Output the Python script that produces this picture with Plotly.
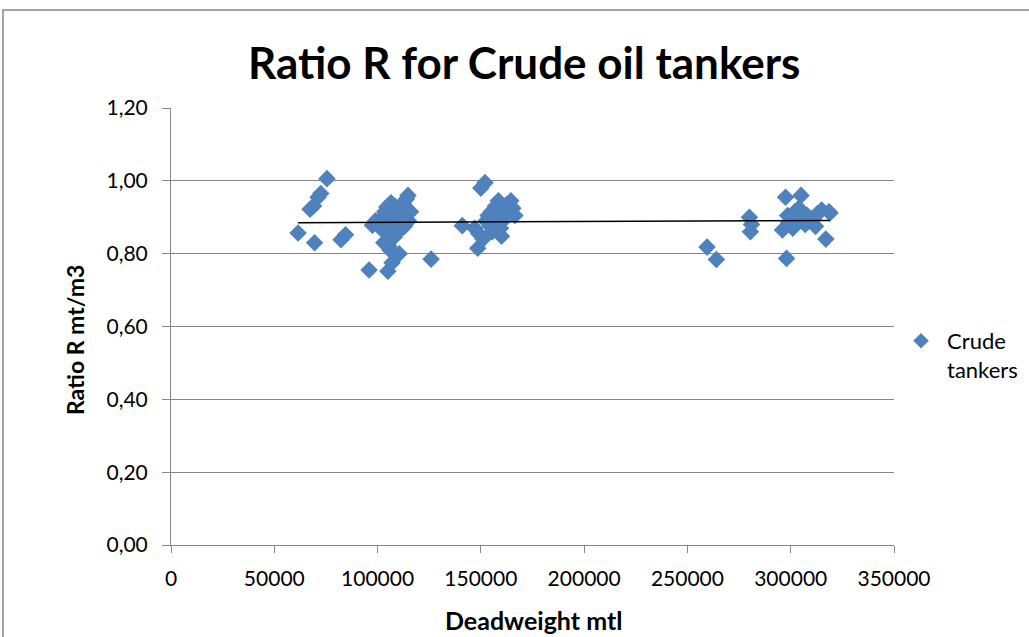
import numpy as np
import plotly.graph_objects as go

# Deadweight (mt) and Ratio R (mt/m3)
deadweight = [
    61500, 67300, 69000, 69500, 71200, 72500, 75500, 82300, 84500,
    95900, 97500, 99000, 100500, 101500, 102500, 103500, 104000, 104500, 105000,
    105500, 106000, 106500, 107000, 107500, 108000, 108500, 109000, 109500, 110000,
    110500, 111000, 111500, 112000, 112500, 113000, 113500, 114000, 114700, 115000,
    116000, 125900, 103000, 106000,
    141000, 147000, 148500, 149000, 150000, 151000, 152000, 152500, 153500, 154500,
    155000, 156000, 157000, 158000, 158500, 159500, 160000, 160500, 161500, 162500,
    163500, 164500, 165500, 166500, 155500,
    259500, 264000, 280000, 280500, 281000, 296000, 297500, 298000, 298500, 299000,
    300000, 301000, 302000, 303000, 304000, 305000, 306000, 307000, 308000, 309000,
    310000, 311000, 312000, 313000, 315000, 317000, 318500, 319000,
]
ratio_r = [
    0.857, 0.922, 0.931, 0.830, 0.955, 0.965, 1.006, 0.838, 0.852,
    0.755, 0.878, 0.890, 0.884, 0.870, 0.900, 0.915, 0.860, 0.928, 0.752,
    0.820, 0.880, 0.940, 0.775, 0.905, 0.845, 0.930, 0.870, 0.895, 0.910,
    0.800, 0.865, 0.925, 0.885, 0.940, 0.875, 0.905, 0.950, 0.960, 0.890,
    0.915, 0.785, 0.830, 0.810,
    0.877, 0.870, 0.815, 0.855, 0.980, 0.840, 0.995, 0.890, 0.905, 0.875,
    0.915, 0.885, 0.930, 0.900, 0.945, 0.870, 0.848, 0.920, 0.895, 0.935,
    0.910, 0.945, 0.925, 0.905, 0.860,
    0.818, 0.784, 0.900, 0.860, 0.880, 0.865, 0.955, 0.787, 0.905, 0.885,
    0.900, 0.870, 0.915, 0.890, 0.925, 0.960, 0.905, 0.880, 0.905, 0.890,
    0.895, 0.895, 0.875, 0.910, 0.920, 0.840, 0.915, 0.912,
]

x_tick_vals = [0, 50000, 100000, 150000, 200000, 250000, 300000, 350000]
x_tick_text = ["0", "50000", "100000", "150000", "200000", "250000", "300000", "350000"]
y_tick_vals = [0.0, 0.2, 0.4, 0.6, 0.8, 1.0, 1.2]
y_tick_text = ["0,00", "0,20", "0,40", "0,60", "0,80", "1,00", "1,20"]

# linear trendline computed from the data
xs = np.array(deadweight, dtype=float)
ys = np.array(ratio_r, dtype=float)
slope, intercept = np.polyfit(xs, ys, 1)
trend_x = [xs.min(), xs.max()]
trend_y = [slope * v + intercept for v in trend_x]

FONT = "Lato, 'Open Sans', sans-serif"
GRAY = "#868686"

fig = go.Figure()
fig.add_trace(go.Scatter(
    x=deadweight, y=ratio_r, mode="markers", name="Crude<br>tankers",
    marker=dict(symbol="diamond", size=13.5, color="#4F81BD",
                line=dict(width=0)),
))
fig.add_trace(go.Scatter(
    x=trend_x, y=trend_y, mode="lines", showlegend=False,
    line=dict(color="black", width=1.5),
))

L, R, T, B = 171, 894, 108, 545
W, H = 1029, 637

def px_x(p):
    return (p - L) / (R - L)

def px_y(p):
    return (B - p) / (B - T)

fig.update_layout(
    width=W, height=H,
    margin=dict(l=L, r=W - R, t=T, b=H - B, pad=0, autoexpand=False),
    paper_bgcolor="white", plot_bgcolor="white",
    font=dict(family=FONT, color="black", size=21),
    showlegend=True,
    legend=dict(x=px_x(895), y=px_y(320), xanchor="left", yanchor="top",
                valign="top", itemwidth=42,
                font=dict(size=22, family=FONT, color="black"),
                bgcolor="rgba(0,0,0,0)", itemsizing="constant"),
    xaxis=dict(range=[0, 350000], tickvals=x_tick_vals, ticktext=x_tick_text,
               showgrid=False, zeroline=False, showline=True, linecolor=GRAY,
               linewidth=1, ticks="outside", ticklen=7, tickcolor=GRAY,
               ticklabelstandoff=8, automargin=False,
               tickfont=dict(size=21, family=FONT)),
    yaxis=dict(range=[0, 1.2], tickvals=y_tick_vals, ticktext=y_tick_text,
               showgrid=True, gridcolor=GRAY, gridwidth=1,
               zeroline=False, showline=True, linecolor=GRAY, linewidth=1,
               ticks="outside", ticklen=8, tickcolor=GRAY,
               ticklabelstandoff=10, automargin=False,
               tickfont=dict(size=21, family=FONT)),
    annotations=[
        dict(text="<b>Ratio R for Crude oil tankers</b>", xref="paper", yref="paper",
             x=px_x(524), y=px_y(62), xanchor="center", yanchor="middle",
             showarrow=False, font=dict(size=44, family=FONT, color="black")),
        dict(text="<b>Deadweight mtl</b>", xref="paper", yref="paper",
             x=px_x(533), y=px_y(620), xanchor="center", yanchor="middle",
             showarrow=False, font=dict(size=25, family=FONT, color="black")),
        dict(text="<b>Ratio R mt/m3</b>", xref="paper", yref="paper",
             x=px_x(75), y=px_y(340), xanchor="center", yanchor="middle",
             textangle=-90,
             showarrow=False, font=dict(size=23, family=FONT, color="black")),
    ],
    shapes=[dict(type="rect", xref="paper", yref="paper",
                 x0=px_x(3), y0=px_y(660), x1=px_x(1060), y1=px_y(10),
                 line=dict(color=GRAY, width=1.5), fillcolor="rgba(0,0,0,0)",
                 layer="below")],
)

fig.write_html("out.html", config={"displayModeBar": False},
               post_script="document.body.style.margin='0';document.body.style.padding='0';")
